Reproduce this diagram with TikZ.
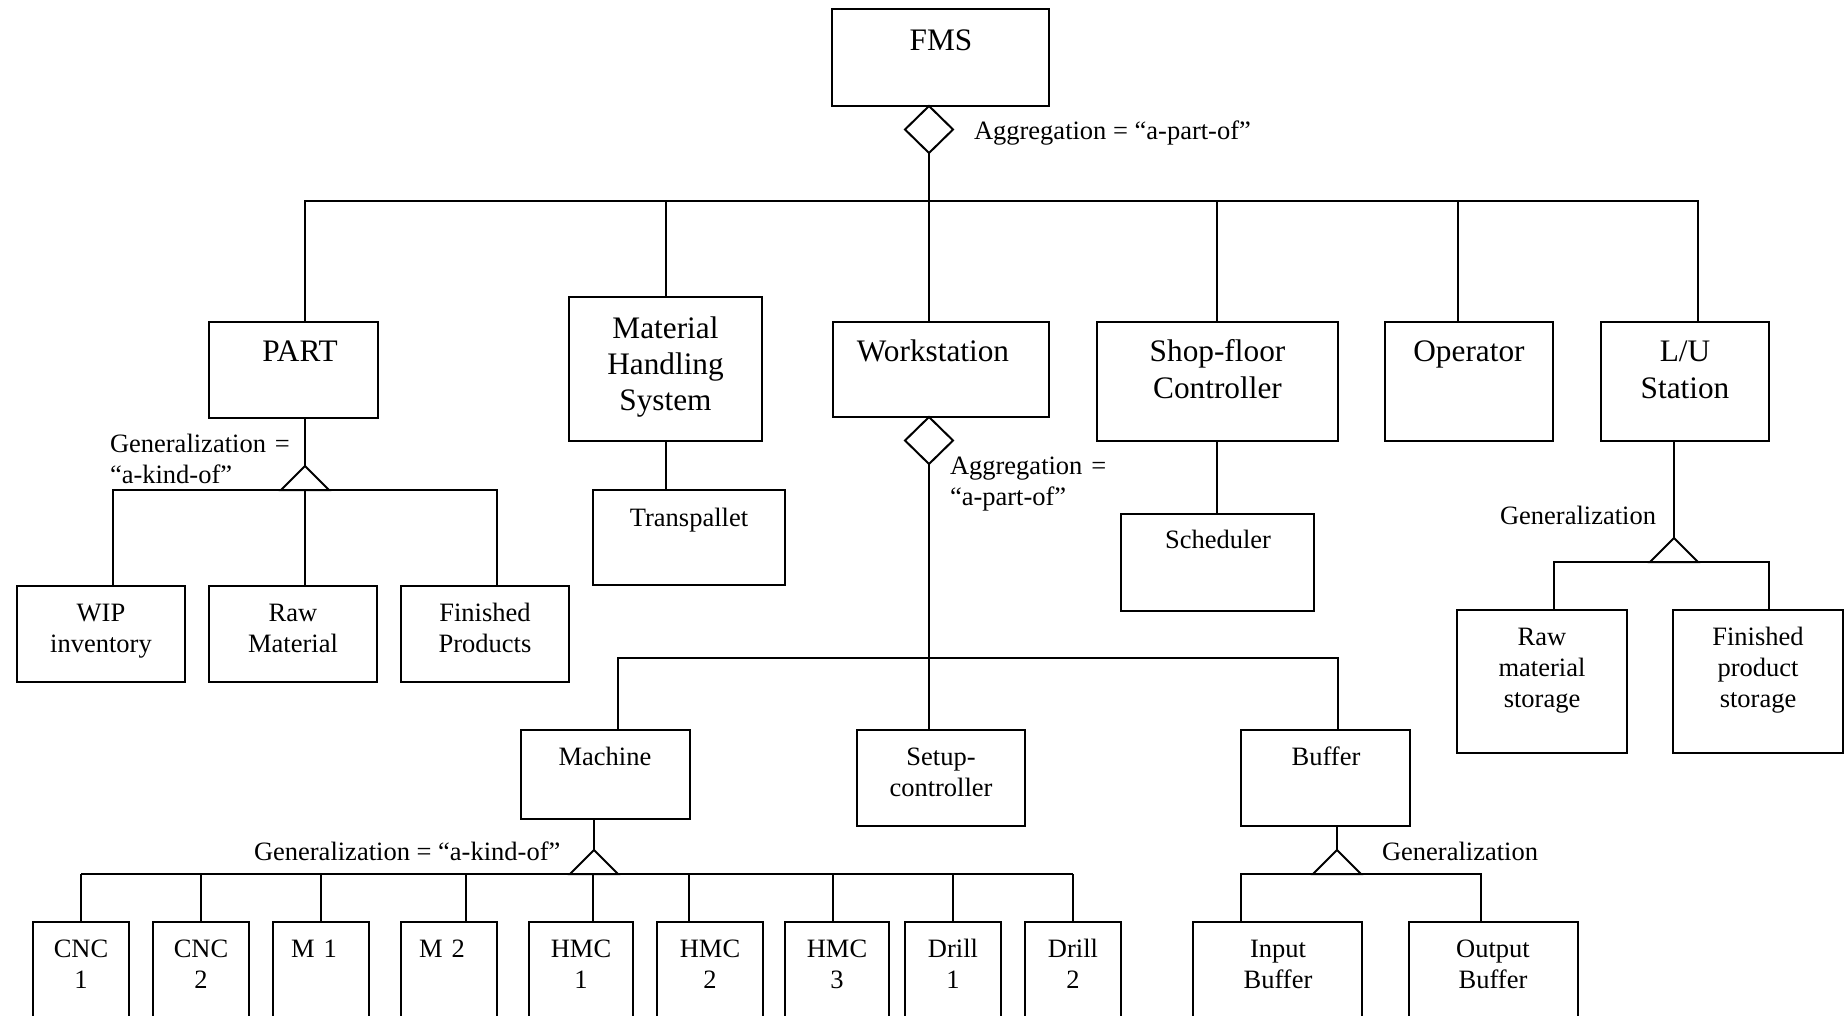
\documentclass[tikz,border=0pt]{standalone}
\usepackage{fontspec}
\setmainfont{Liberation Serif}
\usetikzlibrary{fit,shapes.geometric}
\begin{document}
\begin{tikzpicture}[x=1pt,y=-1pt,
  line width=2pt,
  box/.style={draw, inner sep=0pt, outer sep=0pt},
  aggr/.style={draw, diamond, inner sep=0pt, outer sep=0pt,
    minimum width=48pt, minimum height=47pt, fill=white},
  big/.style={font=\fontsize{31.3pt}{36.5pt}\selectfont, inner sep=0pt,
    anchor=base, text width=220pt, align=center},
  small/.style={font=\fontsize{26.5pt}{31pt}\selectfont, inner sep=0pt,
    anchor=base, text width=180pt, align=center},
  note/.style={font=\fontsize{26.5pt}{31pt}\selectfont, inner sep=0pt,
    anchor=base west, text width=300pt, align=left},
  tag/.style={font=\fontsize{26.5pt}{31pt}\selectfont, inner sep=0pt,
    anchor=base west},
]
\useasboundingbox (0,0) rectangle (1845,1016);
\clip (0,0) rectangle (1845,1016);

% ---------- top level ----------
\node[box, fit={(832,9) (1049,106)}] (fms) {};
\node[big] (tfms) at (941,51) {FMS};
\node[aggr, anchor=north] (agg1) at ([xshift=-11.5pt]fms.south) {};
\node[tag] (lagg1) at (973,140) {Aggregation = “a-part-of”};
\coordinate (bus1) at (929,201);

% ---------- second level ----------
\node[box, fit={(209,322) (378,418)}] (part) {};
\node[big] (tpart) at (300,362) {PART};
\node[box, fit={(569,297) (762,441)}] (mhs) {};
\node[big] (tmhs) at (665.5,338) {Material\\Handling\\System};
\node[box, fit={(833,322) (1049,417)}] (ws) {};
\node[big] (tws) at (933,362) {Workstation};
\node[box, fit={(1097,322) (1338,441)}] (sfc) {};
\node[big] (tsfc) at (1217.5,362) {Shop-floor\\Controller};
\node[box, fit={(1385,322) (1553,441)}] (op) {};
\node[big] (top) at (1469,362) {Operator};
\node[box, fit={(1601,322) (1769,441)}] (lu) {};
\node[big] (tlu) at (1685,362) {L/U\\Station};

\draw (agg1.south) -- (bus1);
\draw ([xshift=11.5pt]part.north) |- (bus1) -| ([xshift=13pt]lu.north);
\draw ([xshift=0.5pt]mhs.north) -- ([xshift=0.5pt]mhs.north |- bus1);
\draw (bus1) -- ([xshift=-12pt]ws.north);
\draw ([xshift=-0.5pt]sfc.north) -- ([xshift=-0.5pt]sfc.north |- bus1);
\draw ([xshift=-11pt]op.north) -- ([xshift=-11pt]op.north |- bus1);

% ---------- PART specialisation ----------
\coordinate (gPart) at (305,466);
\coordinate (bPart) at (305,490);
\node[note] (lgPart) at (109,452) {Generalization =\\“a-kind-of”};
\node[box, fit={(17,586) (185,682)}] (wip) {};
\node[small] (twip) at (101,621) {WIP\\inventory};
\node[box, fit={(209,586) (377,682)}] (raw) {};
\node[small] (traw) at (293,621) {Raw\\Material};
\node[box, fit={(401,586) (569,682)}] (fin) {};
\node[small] (tfin) at (485,621) {Finished\\Products};
\draw ([xshift=11.5pt]part.south) -- (gPart);
\draw (gPart) -- ++(-24,24) -- ++(48,0) -- cycle;
\draw ([xshift=12pt]wip.north) |- (bPart) -| ([xshift=12pt]fin.north);
\draw (bPart) -- ([xshift=12pt]raw.north);

% ---------- material handling / controller ----------
\node[box, fit={(593,490) (785,585)}] (tp) {};
\node[small] (ttp) at (689,526) {Transpallet};
\draw ([xshift=0.5pt]mhs.south) -- ([xshift=0.5pt]mhs.south |- tp.north);
\node[box, fit={(1121,514) (1314,611)}] (sch) {};
\node[small] (tsch) at (1218,548) {Scheduler};
\draw ([xshift=-0.5pt]sfc.south) -- ([xshift=-0.5pt]sfc.south |- sch.north);

% ---------- L/U station specialisation ----------
\coordinate (gLU) at (1674,538);
\coordinate (bLU) at (1674,562);
\node[tag, anchor=base east] (lgLU) at (1657,524) {Generalization};
\node[box, fit={(1457,610) (1627,753)}] (rms) {};
\node[small] (trms) at (1542,645) {Raw\\material\\storage};
\node[box, fit={(1673,610) (1843,753)}] (fps) {};
\node[small] (tfps) at (1758,645) {Finished\\product\\storage};
\draw ([xshift=-11pt]lu.south) -- (gLU);
\draw (gLU) -- ++(-24,24) -- ++(48,0) -- cycle;
\draw ([xshift=12pt]rms.north) |- (bLU) -| ([xshift=11pt]fps.north);

% ---------- workstation aggregation ----------
\node[aggr, anchor=north] (agg2) at ([xshift=-12pt]ws.south) {};
\node[note] (lagg2) at (949,474) {Aggregation =\\“a-part-of”};
\coordinate (bus2) at (929,658);
\node[box, fit={(521,730) (690,819)}] (mach) {};
\node[small] (tmach) at (605,765) {Machine};
\node[box, fit={(857,730) (1025,826)}] (setup) {};
\node[small] (tsetup) at (941,765) {Setup-\\controller};
\node[box, fit={(1241,730) (1410,826)}] (buf) {};
\node[small] (tbuf) at (1326,765) {Buffer};
\draw (agg2.south) -- ([xshift=-12pt]setup.north);
\draw ([xshift=12.5pt]mach.north) |- (bus2) -| ([xshift=12.5pt]buf.north);

% ---------- machine specialisation ----------
\coordinate (gMach) at (594,850);
\coordinate (bMach) at (594,874);
\node[tag] (lgMach) at (253,860) {Generalization = “a-kind-of”};
\node[box, fit={(33,922) (129,1040)}] (cnc1) {};
\node[small] (tcnc1) at (81,957) {CNC\\1};
\node[box, fit={(153,922) (249,1040)}] (cnc2) {};
\node[small] (tcnc2) at (201,957) {CNC\\2};
\node[box, fit={(273,922) (369,1040)}] (m1) {};
\node[small] (tm1) at (314,957) {M 1};
\node[box, fit={(401,922) (497,1040)}] (m2) {};
\node[small] (tm2) at (442,957) {M 2};
\node[box, fit={(529,922) (633,1040)}] (hmc1) {};
\node[small] (thmc1) at (581,957) {HMC\\1};
\node[box, fit={(657,922) (763,1040)}] (hmc2) {};
\node[small] (thmc2) at (710,957) {HMC\\2};
\node[box, fit={(785,922) (889,1040)}] (hmc3) {};
\node[small] (thmc3) at (837,957) {HMC\\3};
\node[box, fit={(905,922) (1001,1040)}] (dr1) {};
\node[small] (tdr1) at (953,957) {Drill\\1};
\node[box, fit={(1025,922) (1121,1040)}] (dr2) {};
\node[small] (tdr2) at (1073,957) {Drill\\2};
\draw ([xshift=-11.5pt]mach.south) -- (gMach);
\draw (gMach) -- ++(-24,24) -- ++(48,0) -- cycle;
\draw (cnc1.north |- bMach) -- (dr2.north |- bMach);
\foreach \n/\s in {cnc1/0, cnc2/0, m1/0, m2/17, hmc1/12, hmc2/-21, hmc3/-4, dr1/0, dr2/0}
  \draw ([xshift=\s pt]\n.north) -- ([xshift=\s pt]\n.north |- bMach);

% ---------- buffer specialisation ----------
\coordinate (gBuf) at (1337,850);
\coordinate (bBuf) at (1337,874);
\node[tag] (lgBuf) at (1381,860) {Generalization};
\node[box, fit={(1193,922) (1362,1040)}] (inb) {};
\node[small] (tinb) at (1278,957) {Input\\Buffer};
\node[box, fit={(1409,922) (1578,1040)}] (outb) {};
\node[small] (toutb) at (1493,957) {Output\\Buffer};
\draw ([xshift=11.5pt]buf.south) -- (gBuf);
\draw (gBuf) -- ++(-24,24) -- ++(48,0) -- cycle;
\draw ([xshift=-36.5pt]inb.north) |- (bBuf) -| ([xshift=-12.5pt]outb.north);
\end{tikzpicture}
\end{document}
